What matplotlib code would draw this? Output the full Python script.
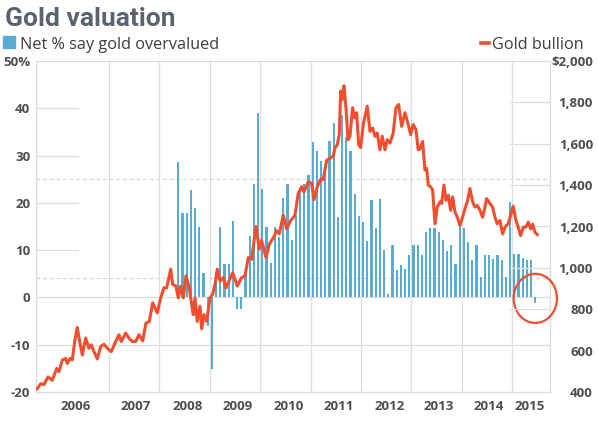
import matplotlib
matplotlib.use("Agg")
import matplotlib.pyplot as plt
from matplotlib.patches import Ellipse, Rectangle
from matplotlib.lines import Line2D

# Net % of fund managers saying gold is overvalued, monthly from May 2008
net_overvalued = [
    28.6, 17.8, 17.8, 22.8, 18.9, 14.9, 5.2, -6.0, -15.1, 3.0,
    14.9, 7.0, 7.0, 16.1, -2.4, -2.4, 5.3, 12.9, 24.0, 39.0,
    23.0, 15.0, 7.3, 15.0, 12.8, 21.1, 23.9, 12.2, 17.3, 23.0,
    24.0, 25.8, 32.8, 30.9, 28.8, 27.5, 33.0, 36.9, 17.0, 38.5,
    33.9, 30.9, 21.8, 17.2, 15.9, 11.9, 20.7, 14.7, 20.9, 10.1,
    0.8, 11.1, 5.9, 6.9, 6.1, 8.9, 11.0, 11.0, 9.0, 13.8,
    14.7, 14.7, 13.8, 12.1, 9.9, 11.0, 7.1, 15.2, 14.7, 11.7,
    8.0, 11.0, 4.3, 8.9, 8.9, 8.2, 9.0, 8.0, 4.3, 20.1,
    9.1, 9.1, 8.4, 8.0, 8.0, -1.2,
]
bar_start_year, bar_start_month = 2008, 5

# Gold bullion price ($/oz), decimal year
gold_years = [
    2005.576, 2005.643, 2005.709, 2005.788, 2005.873, 2005.961, 2006.006, 2006.072,
    2006.139, 2006.171, 2006.225, 2006.270, 2006.318, 2006.369, 2006.417, 2006.469,
    2006.536, 2006.602, 2006.647, 2006.701, 2006.766, 2006.834, 2006.899, 2006.965,
    2007.044, 2007.131, 2007.197, 2007.242, 2007.330, 2007.395, 2007.461, 2007.528,
    2007.594, 2007.667, 2007.732, 2007.798, 2007.865, 2007.911, 2007.957, 2008.024,
    2008.090, 2008.143, 2008.223, 2008.262, 2008.328, 2008.373, 2008.421, 2008.473,
    2008.526, 2008.592, 2008.639, 2008.671, 2008.705, 2008.750, 2008.804, 2008.838,
    2008.883, 2008.937, 2009.002, 2009.056, 2009.102, 2009.147, 2009.201, 2009.266,
    2009.320, 2009.365, 2009.453, 2009.544, 2009.631, 2009.697, 2009.762, 2009.830,
    2009.915, 2009.981, 2010.028, 2010.114, 2010.179, 2010.258, 2010.326, 2010.377,
    2010.457, 2010.524, 2010.604, 2010.689, 2010.754, 2010.822, 2010.867, 2010.953,
    2011.020, 2011.066, 2011.131, 2011.199, 2011.250, 2011.318, 2011.383, 2011.449,
    2011.483, 2011.528, 2011.568, 2011.596, 2011.635, 2011.661, 2011.701, 2011.741,
    2011.780, 2011.834, 2011.873, 2011.913, 2011.953, 2011.993, 2012.044, 2012.123,
    2012.177, 2012.231, 2012.276, 2012.322, 2012.375, 2012.421, 2012.475, 2012.520,
    2012.574, 2012.639, 2012.693, 2012.746, 2012.806, 2012.871, 2012.937, 2012.985,
    2013.036, 2013.090, 2013.135, 2013.169, 2013.223, 2013.268, 2013.302, 2013.334,
    2013.381, 2013.421, 2013.467, 2013.512, 2013.566, 2013.600, 2013.645, 2013.685,
    2013.731, 2013.778, 2013.818, 2013.864, 2013.909, 2013.963, 2014.016, 2014.062,
    2014.108, 2014.161, 2014.215, 2014.260, 2014.306, 2014.360, 2014.413, 2014.459,
    2014.492, 2014.558, 2014.611, 2014.657, 2014.703, 2014.756, 2014.810, 2014.856,
    2014.921, 2014.969, 2015.020, 2015.074, 2015.119, 2015.167, 2015.219, 2015.272,
    2015.318, 2015.366, 2015.405, 2015.451, 2015.496,
]
gold_prices = [
    416, 440, 436, 473, 457, 514, 498, 555,
    562, 538, 562, 555, 644, 712, 644, 579,
    661, 611, 628, 595, 560, 620, 631, 611,
    595, 644, 677, 644, 685, 660, 644, 644,
    677, 647, 733, 741, 831, 806, 782, 855,
    904, 904, 994, 920, 912, 855, 912, 855,
    961, 904, 823, 774, 855, 741, 815, 706,
    774, 741, 855, 872, 920, 994, 937, 953,
    904, 928, 977, 912, 953, 961, 1050, 1042,
    1200, 1091, 1132, 1050, 1114, 1145, 1180, 1164,
    1254, 1189, 1229, 1254, 1360, 1392, 1367, 1416,
    1408, 1330, 1392, 1428, 1428, 1520, 1530, 1540,
    1580, 1595, 1644, 1855, 1815, 1880, 1774, 1620,
    1636, 1774, 1725, 1750, 1595, 1582, 1693, 1782,
    1660, 1676, 1636, 1652, 1571, 1636, 1571, 1620,
    1603, 1652, 1774, 1790, 1684, 1750, 1693, 1644,
    1693, 1668, 1571, 1575, 1611, 1473, 1481, 1400,
    1392, 1376, 1213, 1294, 1319, 1311, 1400, 1327,
    1351, 1278, 1343, 1270, 1246, 1205, 1246, 1286,
    1319, 1384, 1319, 1294, 1302, 1278, 1245, 1294,
    1335, 1311, 1294, 1245, 1213, 1229, 1164, 1197,
    1213, 1254, 1298, 1229, 1197, 1156, 1197, 1197,
    1221, 1189, 1211, 1172, 1161,
]

year_labels = ["2006", "2007", "2008", "2009", "2010",
               "2011", "2012", "2013", "2014", "2015"]
left_ticks = [-20, -10, 0, 10, 20, 30, 40, 50]
left_labels = ["-20", "-10", "0", "10", "20", "30", "40", "50%"]
right_ticks = [400, 600, 800, 1000, 1200, 1400, 1600, 1800, 2000]
right_labels = ["400", "600", "800", "1,000", "1,200", "1,400",
                "1,600", "1,800", "$2,000"]

BLUE = "#5aabd2"
RED = "#f04e2f"
GRID = "#dddddd"
TXT = "#4d4d4d"

W, H = 598, 421
fig = plt.figure(figsize=(W / 100, H / 100), dpi=100)
ax = fig.add_axes([36 / W, 29 / H, 514 / W, 331 / H])
ax.set_xlim(2005.55, 2015.75)
ax.set_ylim(-20, 50)

# grid
for yr in range(2007, 2016):
    ax.axvline(yr, color=GRID, lw=0.9, zorder=0)
for v in (0, -10):
    ax.axhline(v, color=GRID, lw=0.9, zorder=0)
for v in (10, 20, 30, 40):
    ax.axhline(v, xmin=0, xmax=42 / 514, color=GRID, lw=0.9, zorder=0)
for v in (25, 4.2):
    ax.axhline(v, color="#cfcfcf", lw=0.8, ls=(0, (3, 3)), zorder=0)

bar_x = [bar_start_year + (bar_start_month - 1 + i + 0.5) / 12
         for i in range(len(net_overvalued))]
ax.bar(bar_x, net_overvalued, width=0.042, color=BLUE, zorder=2)

ax2 = ax.twinx()
ax2.set_ylim(400, 2000)
for v in right_ticks[2:-1]:
    ax2.axhline(v, xmin=474 / 514, xmax=1, color=GRID, lw=0.9, zorder=0)
ax2.plot(gold_years, gold_prices, color=RED, lw=2.2, zorder=3,
         solid_joinstyle="round")

# circle around the latest reading
ax.add_patch(Ellipse((bar_x[-1], net_overvalued[-1] + 1), 0.86, 10.4,
                     fill=False, ec=RED, lw=1.6, clip_on=False, zorder=4))

for s in ax.spines.values():
    s.set_color(GRID)
    s.set_linewidth(1)
for s in ax2.spines.values():
    s.set_visible(False)

tick_font = dict(family=["Open Sans", "DejaVu Sans"], fontweight="bold")
ax.set_yticks(left_ticks)
ax.set_yticklabels(left_labels, fontsize=9.5, color=TXT, **tick_font)
ax.tick_params(axis="y", length=0, pad=4)

ax2.set_yticks(right_ticks)
ax2.set_yticklabels(right_labels, fontsize=9.5, color=TXT, ha="right",
                    **tick_font)
ax2.tick_params(axis="y", length=0, pad=31)

label_pos = [2006.34, 2007.53, 2008.57, 2009.56, 2010.57,
             2011.55, 2012.56, 2013.55, 2014.54, 2015.35]
ax.set_xticks(label_pos)
ax.set_xticklabels(year_labels, fontsize=9.5, color=TXT, **tick_font)
ax.tick_params(axis="x", length=0, pad=6)

# title and legend
fig.text(5 / W, 1 - 26 / H, "Gold valuation", fontsize=19,
         family=["Roboto", "DejaVu Sans"], fontweight="bold",
         color="#5b636f", va="baseline", ha="left")
fig.patches.append(Rectangle((3 / W, 1 - 48 / H), 12 / W, 12 / H,
                             color=BLUE, transform=fig.transFigure))
fig.text(20 / W, 1 - 49 / H, "Net % say gold overvalued", fontsize=11.7,
         family=["Open Sans", "DejaVu Sans"], color="#3d3d3d", va="baseline")
fig.lines.append(Line2D([481 / W, 489 / W], [1 - 43 / H, 1 - 43 / H],
                        color=RED, lw=2.6, transform=fig.transFigure))
fig.text(492 / W, 1 - 49 / H, "Gold bullion", fontsize=11.7,
         family=["Open Sans", "DejaVu Sans"], color="#3d3d3d", va="baseline")

fig.savefig("out.png", dpi=100)
